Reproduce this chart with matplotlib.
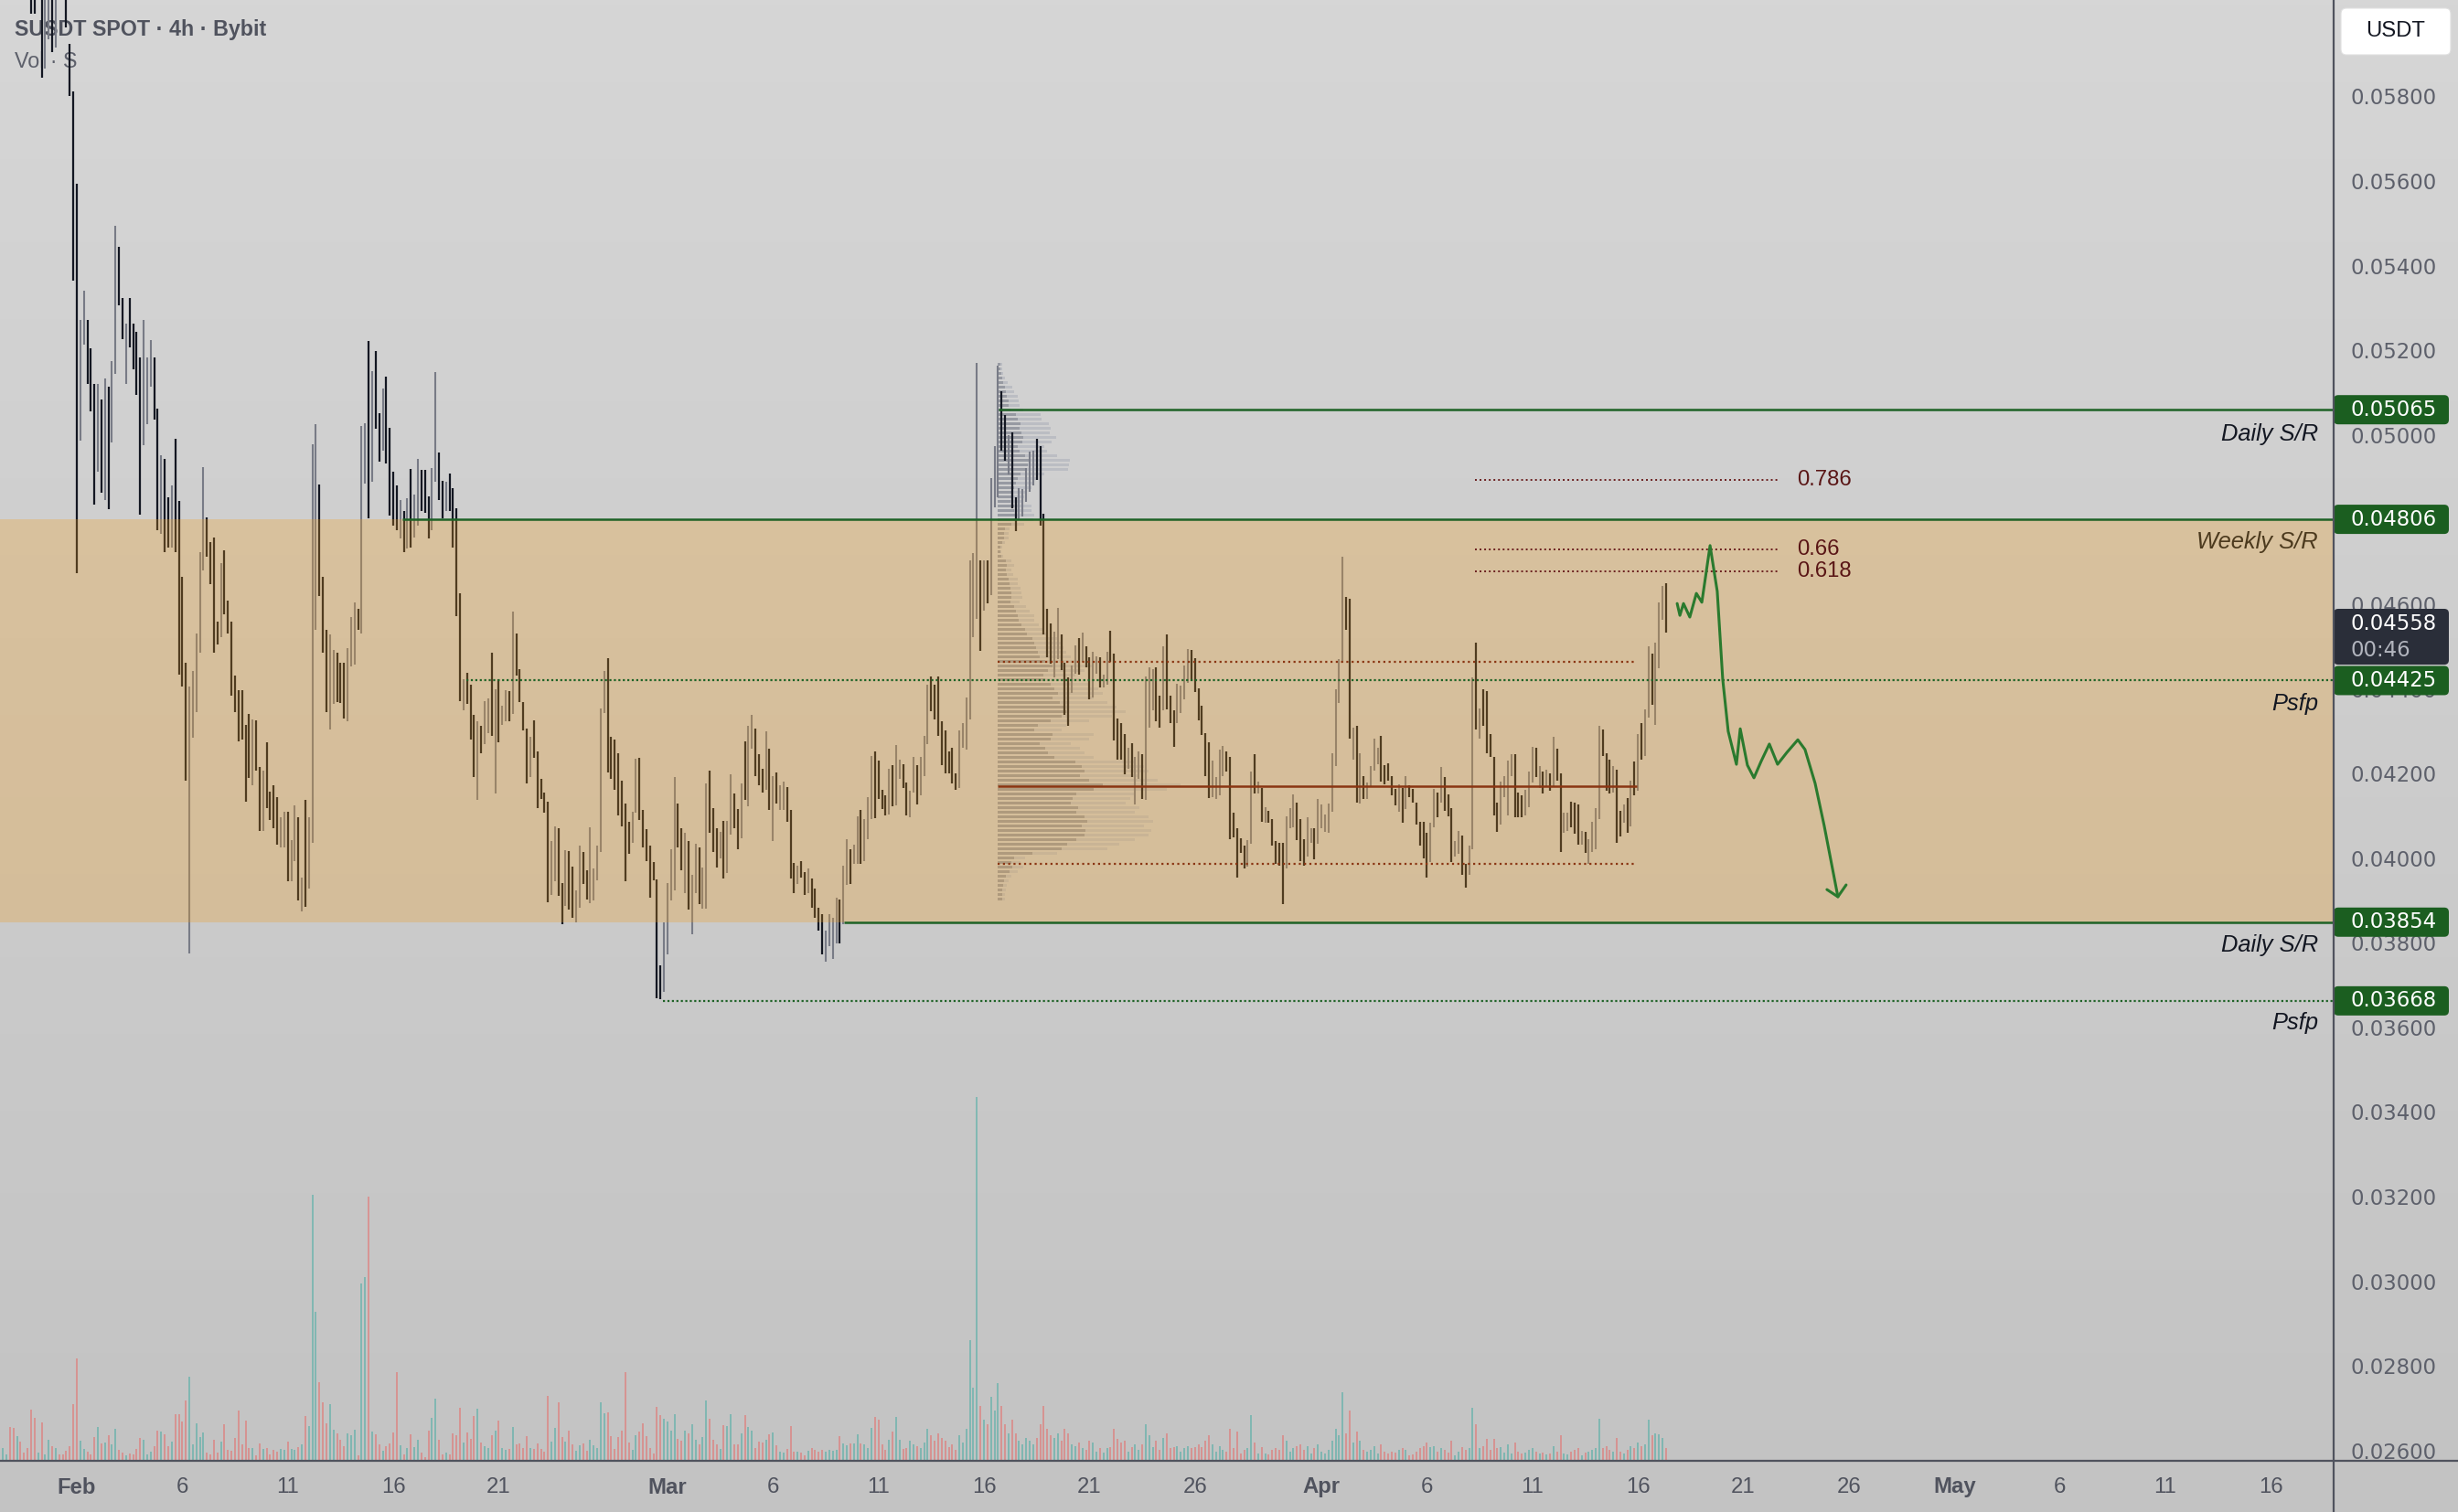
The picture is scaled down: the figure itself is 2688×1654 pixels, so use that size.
import numpy as np
import matplotlib
matplotlib.use('Agg')
import matplotlib.pyplot as plt
from matplotlib.patches import FancyBboxPatch
from matplotlib.colors import LinearSegmentedColormap

nan = float('nan')

# 4h bars, prices in 1e-5 USDT. First 8 bars lie above the visible price range.
highs = [nan] * 8 + [
    6100, 6100, nan, 6100, 6100, 6100, 6100, 6100, nan, nan,
    6100, 5930, 5817, 5599, 5277, 5346, 5277, 5210, 5127, 5127,
    5089, 5138, 5119, 5180, 5499, 5450, 5329, 5269, 5329, 5269,
    5249, 5189, 5277, 5189, 5229, 5189, 5068, 4957, 4948, 4857,
    4886, 4996, 4849, 4670, 4467, 4410, 4448, 4536, 4729, 4930,
    4811, 4752, 4763, 4564, 4703, 4732, 4613, 4564, 4436, 4402,
    4402, 4320, 4346, 4332, 4331, 4220, 4212, 4278, 4163, 4177,
    4150, 4101, 4115, 4115, 4047, 4130, 4101, 3960, 4143, 4101,
    4984, 5030, 4888, 4670, 4544, 4533, 4497, 4490, 4467, 4467,
    4501, 4575, 4610, 4595, 5027, 5033, 5227, 5156, 5203, 5056,
    5115, 5143, 5022, 4919, 4886, 4852, 4826, 4855, 4925, 4865,
    4948, 4922, 4922, 4860, 4927, 5153, 4964, 4896, 4894, 4914,
    4879, 4832, 4632, 4428, 4443, 4416, 4343, 4328, 4317, 4377,
    4382, 4490, 4405, 4428, 4366, 4402, 4400, 4587, 4536, 4451,
    4374, 4312, 4292, 4331, 4258, 4192, 4161, 4139, 4045, 4081,
    4076, 3947, 4024, 4022, 3985, 3930, 4035, 4019, 3976, 4078,
    3980, 4035, 4359, 4447, 4477, 4292, 4285, 4254, 4189, 4135,
    4092, 4115, 4240, 4243, 4120, 4073, 4035, 3996, 3954, 3752,
    3854, 3947, 4027, 4197, 4135, 4076, 4065, 4045, 3965, 4039,
    4031, 3984, 4181, 4212, 4124, 4076, 4068, 4093, 4093, 4204,
    4158, 4122, 4181, 4281, 4317, 4343, 4312, 4251, 4217, 4305,
    4263, 4200, 4207, 4177, 4186, 4173, 4120, 3993, 3988, 3999,
    3973, 3980, 3957, 3934, 3888, 3872, 3834, 3872, 3865, 3911,
    3908, 3988, 4050, 4027, 4038, 4104, 4120, 4097, 4150, 4246,
    4258, 4235, 4167, 4154, 4217, 4224, 4272, 4239, 4228, 4183,
    4164, 4244, 4225, 4244, 4294, 4415, 4435, 4415, 4435, 4329,
    4308, 4258, 4266, 4206, 4307, 4325, 4384, 4710, 4727, 5176,
    4710, 4710, 4709, 4903, 4979, 5170, 5109, 5052, 5005, 5012,
    4858, 4880, 4878, 4928, 4966, 4968, 4996, 4979, 4820, 4595,
    4560, 4540, 4597, 4533, 4467, 4432, 4461, 4509, 4525, 4538,
    4506, 4481, 4494, 4483, 4481, 4439, 4494, 4542, 4489, 4335,
    4325, 4299, 4266, 4277, 4244, 4258, 4250, 4435, 4456, 4451,
    4456, 4390, 4506, 4534, 4390, 4354, 4417, 4412, 4461, 4500,
    4498, 4478, 4407, 4365, 4301, 4279, 4236, 4197, 4261, 4270,
    4258, 4244, 4112, 4075, 4053, 4035, 4048, 4211, 4250, 4186,
    4172, 4125, 4117, 4097, 4046, 4042, 4042, 4103, 4123, 4156,
    4137, 4097, 4049, 4101, 4077, 4075, 4145, 4132, 4109, 4134,
    4253, 4404, 4476, 4718, 4622, 4619, 4314, 4318, 4253, 4200,
    4183, 4222, 4288, 4266, 4294, 4224, 4230, 4200, 4169, 4180,
    4172, 4200, 4178, 4169, 4136, 4092, 4092, 4066, 4090, 4169,
    4161, 4220, 4198, 4156, 4123, 4046, 4070, 4059, 3991, 4035,
    4432, 4514, 4360, 4404, 4401, 4299, 4244, 4136, 4186, 4200,
    4236, 4250, 4252, 4161, 4154, 4167, 4211, 4268, 4266, 4222,
    4211, 4214, 4206, 4292, 4264, 4206, 4112, 4112, 4139, 4136,
    4132, 4070, 4068, 4051, 4092, 4123, 4318, 4310, 4253, 4239,
    4222, 4214, 4117, 4132, 4147, 4189, 4233, 4299, 4325, 4357,
    4506, 4489, 4514, 4610, 4649, 4655]

lows = [nan] * 8 + [
    6001, 6001, nan, 5850, 5871, 5940, 5910, 5921, nan, nan,
    5969, 5806, 5370, 4679, 4991, 5218, 5127, 5061, 4840, 4919,
    4868, 4851, 4829, 4987, 5149, 5311, 5231, 5127, 5212, 5160,
    5099, 4818, 4981, 5030, 5119, 5041, 4780, 4771, 4729, 4740,
    4740, 4729, 4440, 4410, 4189, 3780, 4289, 4351, 4490, 4686,
    4717, 4652, 4490, 4510, 4528, 4582, 4536, 4390, 4351, 4281,
    4285, 4138, 4194, 4178, 4212, 4070, 4070, 4123, 4096, 4076,
    4038, 4031, 4031, 3950, 3950, 3999, 3906, 3880, 3891, 3934,
    4042, 4544, 4624, 4490, 4351, 4309, 4369, 4374, 4371, 4336,
    4328, 4459, 4462, 4544, 4536, 4891, 4809, 4894, 5019, 4943,
    4968, 4937, 4814, 4791, 4780, 4760, 4729, 4737, 4740, 4764,
    4791, 4826, 4822, 4760, 4780, 4894, 4852, 4809, 4825, 4825,
    4740, 4578, 4377, 4354, 4369, 4286, 4197, 4143, 4254, 4274,
    4300, 4294, 4158, 4278, 4320, 4328, 4328, 4346, 4436, 4374,
    4308, 4181, 4197, 4243, 4124, 4146, 4112, 3900, 3919, 3950,
    3916, 3849, 3893, 3883, 3865, 3854, 3888, 3945, 3908, 3899,
    3906, 3953, 4019, 4348, 4207, 4192, 4166, 4107, 4081, 3950,
    4016, 4042, 4112, 4096, 4031, 3999, 3911, 3953, 3675, 3672,
    3690, 3777, 3906, 3930, 4031, 3976, 3923, 3883, 3826, 3923,
    3896, 3885, 3885, 4065, 4019, 3984, 4004, 3957, 3970, 4061,
    4076, 4027, 4053, 4143, 4127, 4263, 4200, 4177, 4161, 4166,
    4120, 4045, 4135, 4120, 4120, 4092, 3957, 3923, 3945, 3960,
    3919, 3923, 3888, 3865, 3834, 3777, 3761, 3798, 3768, 3803,
    3803, 3849, 3942, 3945, 3991, 3991, 3991, 3998, 4049, 4097,
    4099, 4145, 4121, 4106, 4109, 4128, 4131, 4192, 4172, 4106,
    4101, 4161, 4132, 4153, 4200, 4274, 4352, 4332, 4294, 4225,
    4206, 4206, 4181, 4167, 4172, 4266, 4261, 4332, 4527, 4571,
    4495, 4591, 4608, 4627, 4834, 4858, 4968, 4944, 4911, 4832,
    4779, 4803, 4812, 4847, 4872, 4887, 4900, 4790, 4533, 4481,
    4465, 4432, 4476, 4450, 4343, 4318, 4396, 4442, 4439, 4470,
    4456, 4380, 4384, 4442, 4409, 4409, 4415, 4470, 4283, 4239,
    4239, 4203, 4217, 4198, 4132, 4192, 4145, 4142, 4314, 4354,
    4329, 4314, 4354, 4357, 4325, 4269, 4325, 4349, 4380, 4420,
    4423, 4398, 4330, 4296, 4200, 4148, 4150, 4145, 4153, 4200,
    4211, 4051, 4055, 3960, 4018, 3982, 3985, 4040, 4158, 4158,
    4092, 4088, 4090, 4035, 3991, 3987, 3897, 3980, 4076, 4079,
    4048, 3998, 3987, 4009, 4042, 4002, 4040, 4077, 4068, 4066,
    4114, 4222, 4373, 4467, 4545, 4288, 4239, 4136, 4134, 4145,
    4145, 4176, 4213, 4228, 4187, 4180, 4189, 4154, 4131, 4115,
    4088, 4121, 4150, 4136, 4084, 4035, 4004, 3960, 3996, 4079,
    4101, 4136, 4117, 4103, 3996, 4010, 4015, 3966, 3935, 3965,
    4026, 4310, 4288, 4319, 4253, 4244, 4106, 4068, 4084, 4150,
    4106, 4200, 4101, 4101, 4101, 4106, 4125, 4183, 4198, 4172,
    4159, 4175, 4165, 4175, 4189, 4020, 4066, 4070, 4079, 4062,
    4038, 4038, 4018, 3991, 4020, 4026, 4097, 4246, 4164, 4158,
    4161, 4042, 4057, 4090, 4066, 4081, 4154, 4164, 4239, 4246,
    4338, 4368, 4321, 4454, 4569, 4538]

dirs = ("uudduddd"
        "dduduududd" "dddduudddu" "duduuddudd" "dduuuddudd" "udddduuuuu"
        "dddduddddd" "dddudduddd" "duuduududu" "uuddduuddd" "uuuduududd"
        "uddddududu" "uddduuddud" "dddudddudu" "ududuududd" "dduddddduu"
        "ddudduuddu" "uuuudddddd" "duuddddddd" "uuuudduduu" "duuddduduu"
        "dduduudddu" "duduudddud" "dudddduuuu" "duuduuduuu" "dddduduudd"
        "uuduuudddd" "dddduuuuuu" "duduuuddud" "duuuuudddd" "duuddduudu"
        "dduuduuddd" "dduduuduuu" "dduddduuuu" "dddddduuuu" "dddddduudu"
        "duddddduuu" "ddduuduuuu" "uuuuddudud" "uuuudddddu" "dudddddduu"
        "duddduuddu" "ududdddduu" "uuddduuudu" "dududduudd" "duduuuuddd"
        "uddudududu" "uduuud")

# volume per bar (relative units)
volume = [
    14, 7, 37, 36, 27, 21, 9, 14, 56, 47, 9, 42, 7, 23, 16, 14, 7, 7, 11, 16,
    62, 112, 22, 13, 10, 7, 26, 37, 19, 20, 28, 18, 35, 12, 9, 6, 8, 7, 13, 25,
    23, 7, 10, 16, 33, 32, 29, 16, 21, 51, 51, 43, 66, 92, 18, 41, 26, 31, 9, 7,
    23, 9, 21, 40, 12, 11, 25, 55, 18, 44, 14, 14, 6, 19, 13, 14, 7, 12, 10, 13,
    12, 21, 13, 12, 15, 18, 49, 38, 291, 163, 86, 64, 41, 62, 34, 30, 23, 16, 30, 28,
    34, 6, 194, 201, 289, 32, 29, 18, 11, 16, 19, 31, 97, 17, 7, 14, 29, 15, 23, 9,
    4, 33, 47, 68, 23, 7, 9, 7, 30, 28, 58, 20, 31, 24, 49, 57, 20, 16, 14, 28,
    33, 44, 14, 12, 13, 37, 18, 19, 14, 27, 14, 13, 19, 13, 10, 71, 21, 36, 64, 26,
    21, 33, 18, 11, 17, 19, 11, 23, 17, 14, 64, 52, 53, 27, 13, 26, 33, 97, 20, 12,
    28, 32, 41, 27, 14, 8, 59, 50, 46, 43, 33, 51, 24, 22, 33, 30, 40, 23, 18, 26,
    66, 46, 23, 18, 13, 39, 38, 51, 18, 18, 30, 50, 37, 33, 14, 21, 20, 23, 29, 31,
    17, 10, 9, 13, 38, 10, 10, 9, 6, 11, 14, 12, 10, 12, 10, 12, 11, 12, 27, 19,
    17, 19, 19, 29, 19, 18, 14, 36, 48, 45, 18, 12, 23, 32, 48, 23, 13, 14, 22,
    18, 16, 14, 20, 35, 28, 22, 30, 25, 22, 15, 18, 12, 28, 20, 35,
    132, 80, 398, 60, 45, 40, 70, 55, 85, 60, 40, 30, 45, 30, 22, 18,
    25, 22, 18, 25, 40, 60, 35, 28, 25, 30, 22, 35, 30, 18, 16, 20,
    14, 12, 22, 20, 10, 14, 9, 14, 15, 35, 24, 20, 22, 10, 15, 18,
    12, 18, 40, 28, 15, 22, 12, 25, 30, 14, 15, 16, 10, 14, 16, 14,
    15, 18, 15, 22, 28, 18, 10, 16, 12, 10, 35, 14, 32, 8, 12, 14,
    50, 20, 8, 15, 8, 7, 12, 14, 12, 28, 22, 10, 14, 16, 18, 12,
    16, 8, 14, 18, 10, 8, 12, 22, 35, 28, 75, 30, 55, 20, 32, 22,
    12, 10, 12, 16, 8, 18, 10, 8, 10, 9, 12, 14, 12, 6, 7, 10,
    14, 16, 20, 15, 16, 10, 14, 12, 9, 22, 6, 10, 15, 12, 14, 58,
    40, 14, 16, 24, 12, 24, 14, 15, 9, 18, 8, 20, 10, 8, 9, 12,
    14, 10, 8, 9, 7, 8, 16, 10, 28, 8, 7, 10, 12, 14, 6, 9,
    10, 12, 14, 46, 14, 16, 12, 10, 25, 10, 8, 12, 16, 14, 20, 16,
    18, 45, 28, 30, 29, 25, 14]

# fixed range volume profile, rows from the top price downwards
vp_top = 0.05172
vp_step = 0.000108
vp_total = [5, 5, 6, 8, 11, 16, 18, 22, 23, 24, 28, 47, 48, 56, 58, 57, 64, 59, 51, 54,
            65, 79, 78, 77, 51, 44, 40, 37, 32, 29, 27, 37, 37, 40, 39, 29,
            13, 12, 12, 8, 5, 4, 6, 15, 18, 15, 17, 22, 22, 25, 26, 27, 24, 31, 35, 40,
            40, 45, 50, 55, 65, 70, 72, 75, 80, 90, 105, 95, 85, 90, 100, 110, 115, 105,
            120, 130, 140, 125, 100, 75, 70, 105, 100, 80, 90, 95, 105, 150, 160, 165,
            155, 175, 200, 185, 150, 145, 140, 155, 150, 165, 170, 160, 168, 165, 150,
            133, 120, 65, 30, 25, 28, 22, 15, 12, 10, 9, 8, 8]
vp_up = [3, 3, 4, 5, 6, 8, 9, 10, 12, 12, 14, 20, 22, 25, 24, 26, 28, 27, 22, 24,
         30, 35, 33, 32, 25, 22, 20, 18, 16, 15, 14, 18, 18, 20, 19, 15,
         8, 7, 7, 5, 3, 3, 4, 9, 10, 9, 10, 12, 13, 14, 15, 15, 14, 18, 20, 22,
         23, 26, 30, 32, 38, 40, 42, 44, 46, 52, 60, 55, 50, 52, 58, 62, 66, 60,
         68, 72, 75, 70, 58, 44, 40, 60, 58, 46, 52, 55, 62, 85, 92, 95,
         90, 100, 115, 105, 86, 82, 80, 88, 86, 95, 98, 92, 96, 95, 86,
         76, 70, 38, 18, 15, 16, 13, 9, 7, 6, 5, 5, 5]

# projected path (days from Feb 1, price 1e-5)
proj_t = [75.86, 75.99, 76.16, 76.46, 76.77, 77.03, 77.42, 77.76, 78.02, 78.28, 78.67,
          78.85, 79.19, 79.50, 79.84, 80.23, 80.62, 81.06, 81.58, 81.92, 82.40, 82.83, 83.48]
proj_p = [4607, 4579, 4607, 4575, 4631, 4610, 4744, 4636, 4428, 4305, 4227,
          4311, 4225, 4195, 4234, 4275, 4227, 4255, 4285, 4262, 4182, 4082, 3914]
head_t = [82.96, 83.48, 83.87]
head_p = [3931, 3914, 3942]

level_prices = [0.05065, 0.04806, 0.04425, 0.03854, 0.03668]
level_start = [43.69, 15.43, 18.47, 36.37, 27.78]
level_solid = [True, True, False, True, False]
fib_prices = [0.04900, 0.04735, 0.04682]
fib_labels = ['0.786', '0.66', '0.618']
poc, vah, val = 0.04175, 0.04470, 0.03991

tick_days = [0, 5, 10, 15, 20, 28, 33, 38, 43, 48, 53, 59, 64, 69, 74, 79, 84, 89, 94, 99, 104]
tick_text = ['Feb', '6', '11', '16', '21', 'Mar', '6', '11', '16', '21', '26',
             'Apr', '6', '11', '16', '21', '26', 'May', '6', '11', '16']
price_ticks = [0.026, 0.028, 0.030, 0.032, 0.034, 0.036, 0.038, 0.040, 0.042,
               0.044, 0.046, 0.048, 0.050, 0.052, 0.054, 0.056, 0.058]

plt.rcParams['font.family'] = 'Liberation Sans'

W, H = 2688, 1654
fig = plt.figure(figsize=(W / 200, H / 200), dpi=200)

bg = fig.add_axes([0, 0, 1, 1])
bg.axis('off')
cmap = LinearSegmentedColormap.from_list('bg', ['#d6d6d6', '#c3c3c3'])
bg.imshow(np.linspace(0, 1, 256).reshape(-1, 1), aspect='auto', cmap=cmap,
          extent=[0, 1, 0, 1], origin='upper')

rect = [0, 1 - 1598 / H, 2552 / W, 1598 / H]
xlim = (-84 / 23.07, (2552 - 84) / 23.07)
ylim = (0.02581, 0.060333)
pxp = 0.002 / 92.57  # price per pixel

vax = fig.add_axes(rect)
vax.axis('off')
vax.set_xlim(xlim)
vax.set_ylim(0, 1598)

ax = fig.add_axes(rect)
ax.axis('off')
ax.set_xlim(xlim)
ax.set_ylim(ylim)

t = (np.arange(len(highs)) - 21) / 6.0
hi = np.array(highs) / 1e5
lo = np.array(lows) / 1e5
up = np.array([c == 'u' for c in dirs])
ok = ~np.isnan(hi)

ax.vlines(t[up & ok], lo[up & ok], hi[up & ok], color='#787b86', lw=0.75, zorder=3)
ax.vlines(t[~up & ok], lo[~up & ok], hi[~up & ok], color='#131722', lw=0.8, zorder=3)

vol = np.array(volume, dtype=float)
tv = t[:len(vol)]
uv = up[:len(vol)]
vax.vlines(tv[uv], 0, vol[uv], color='#26a69a', alpha=0.55, lw=0.55)
vax.vlines(tv[~uv], 0, vol[~uv], color='#ef5350', alpha=0.55, lw=0.55)

# volume profile
vp_left = 43.65
rows = vp_top - np.arange(len(vp_total)) * vp_step
ax.barh(rows, np.array(vp_total) / 23.07, left=vp_left, height=vp_step * 0.6,
        color='#bbbdc3', lw=0, zorder=2)
ax.barh(rows, np.array(vp_up) / 23.07, left=vp_left, height=vp_step * 0.6,
        color='#979aa2', lw=0, zorder=2.1)

# orange zone
ax.axhspan(0.03854, 0.04806, color='#f09d1e', alpha=0.28, lw=0, zorder=4)

green = '#1e6226'
for p, s, solid in zip(level_prices, level_start, level_solid):
    if solid:
        ax.hlines(p, s, xlim[1], color=green, lw=0.9, zorder=5)
    else:
        ax.hlines(p, s, xlim[1], color=green, lw=0.8, linestyles=(0, (1, 1.2)), zorder=5)

ax.hlines(poc, vp_left, 73.95, color='#8a3512', lw=0.9, zorder=5)
ax.hlines([vah, val], vp_left, 73.95, color='#8a3512', lw=0.8,
          linestyles=(0, (1, 1.6)), zorder=5)
ax.hlines(fib_prices, 66.28, 80.67, color='#6b1f1f', lw=0.7,
          linestyles=(0, (1, 1.6)), zorder=5)
for p, s in zip(fib_prices, fib_labels):
    ax.text(81.53, p, s, color='#5a1616', fontsize=8.6, va='center', ha='left', zorder=6)

ax.plot(proj_t, np.array(proj_p) / 1e5, color='#2a7a2e', lw=1.1,
        solid_joinstyle='round', solid_capstyle='round', zorder=6)
ax.plot(head_t, np.array(head_p) / 1e5, color='#2a7a2e', lw=1.1,
        solid_joinstyle='round', solid_capstyle='round', zorder=6)

tx = 106.24
ax.text(tx, 0.05007, 'Daily S/R', style='italic', fontsize=9.2, color='#131722',
        ha='right', va='center', zorder=6)
ax.text(tx, 0.04752, 'Weekly S/R', style='italic', fontsize=9.2, color='#4c3a1e',
        ha='right', va='center', zorder=6)
ax.text(tx, 0.04370, 'Psfp', style='italic', fontsize=9.2, color='#131722',
        ha='right', va='center', zorder=6)
ax.text(tx, 0.03799, 'Daily S/R', style='italic', fontsize=9.2, color='#131722',
        ha='right', va='center', zorder=6)
ax.text(tx, 0.03616, 'Psfp', style='italic', fontsize=9.2, color='#131722',
        ha='right', va='center', zorder=6)

ax.text(16 / W, 1 - 32 / H, 'SUSDT SPOT · 4h · Bybit', transform=fig.transFigure,
        fontsize=8.4, fontweight='bold', color='#50535e', va='center', zorder=1)
ax.text(16 / W, 1 - 67 / H, 'Vol · S', transform=fig.transFigure,
        fontsize=8.4, color='#5d606b', va='center', zorder=1)

# time axis labels
for d, s in zip(tick_days, tick_text):
    bold = not s.isdigit()
    fig.text((84 + d * 23.07) / W, 1 - 1627 / H, s, ha='center', va='center',
             fontsize=8.6, color='#50535e', fontweight='bold' if bold else 'normal')

# frame lines
fig.add_artist(plt.Line2D([0, 1], [1 - 1598 / H] * 2, color='#50535e', lw=0.8))
fig.add_artist(plt.Line2D([2552 / W] * 2, [0, 1], color='#50535e', lw=0.8))

# price scale
pax = fig.add_axes([2552 / W, 1 - 1598 / H, 136 / W, 1598 / H])
pax.axis('off')
pax.set_xlim(0, 136)
pax.set_ylim(ylim)
for p in price_ticks:
    pax.text(19, p, '%.5f' % p, fontsize=8.2, color='#5d606b', va='center', ha='left',
             family='DejaVu Sans', zorder=2)

for p in level_prices:
    pax.add_patch(FancyBboxPatch((0, p - 16 * pxp), 126, 32 * pxp,
                                 boxstyle='round,pad=0,rounding_size=5',
                                 mutation_aspect=pxp, fc='#1b5e20', ec='none', zorder=3))
    pax.text(19, p, '%.5f' % p, fontsize=8.2, color='white', va='center', ha='left',
             family='DejaVu Sans', zorder=4)

last = 0.04558
pax.add_patch(FancyBboxPatch((0, 0.044626), 126, 0.045945 - 0.044626,
                             boxstyle='round,pad=0,rounding_size=5',
                             mutation_aspect=pxp, fc='#2a2e39', ec='none', zorder=3))
pax.text(19, last, '%.5f' % last, fontsize=8.2, color='white', va='center', ha='left',
         family='DejaVu Sans', zorder=4)
pax.text(19, 0.04497, '00:46', fontsize=8.2, color='#b2b5be', va='center', ha='left',
         family='DejaVu Sans', zorder=4)

pax.add_patch(FancyBboxPatch((8, 0.059037), 120, 0.060139 - 0.059037,
                             boxstyle='round,pad=0,rounding_size=6',
                             mutation_aspect=pxp, fc='white', ec='#e0e0e0', lw=0.4, zorder=3))
pax.text(68, 0.059588, 'USDT', fontsize=8.6, color='#131722', va='center', ha='center', zorder=4)

fig.savefig('out.png', dpi=200)
